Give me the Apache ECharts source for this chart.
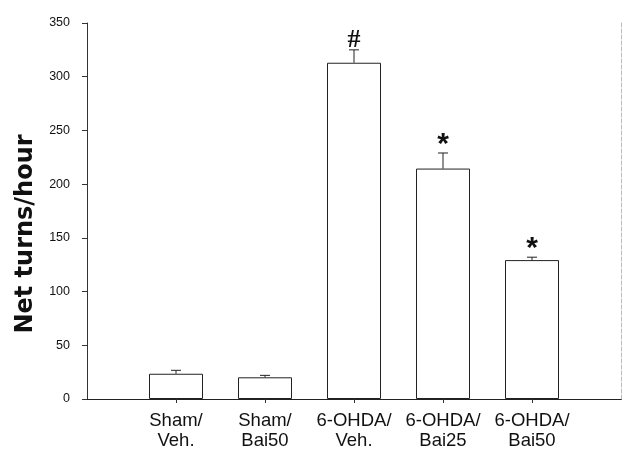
<!DOCTYPE html>
<html>
<head>
<meta charset="utf-8">
<script src="https://cdn.jsdelivr.net/npm/echarts@6/dist/echarts.min.js"></script>
<style>
html,body{margin:0;padding:0;background:#fff;}
#chart{width:624px;height:459px;}
</style>
</head>
<body>
<div id="chart"></div>
<script>
// ---- data ----
const categories = ['Sham/\nVeh.', 'Sham/\nBai50', '6-OHDA/\nVeh.', '6-OHDA/\nBai25', '6-OHDA/\nBai50'];
const means = [23.5, 20.2, 313, 214.5, 129.3];
const semUp = [3.2, 1.8, 12, 14.5, 2.7];
const marks = ['', '', '#', '*', '*'];
const yTicks = { min: 0, max: 350, interval: 50 };
const yTitle = 'Net turns/hour';

// pad with empty slots at both ends so bars sit at ticks 1..5 of a 0..6 axis
const axisCats = [''].concat(categories, ['']);
const barData = [null].concat(means, [null]);
const errData = categories.map((c, i) => [i + 1, means[i], means[i] + semUp[i], marks[i]]);

const chart = echarts.init(document.getElementById('chart'), null, { renderer: 'canvas' });
const option = {
  backgroundColor: '#fff',
  animation: false,
  grid: { left: 87, right: 2, top: 23, bottom: 60, containLabel: false },
  xAxis: [{
    type: 'category',
    data: axisCats,
    boundaryGap: false,
    axisLine: { lineStyle: { color: '#111', width: 1 } },
    axisTick: { show: true, length: 4, inside: false, interval: (i) => i > 0 && i < axisCats.length - 1, lineStyle: { color: '#333' } },
    axisLabel: { interval: 0, margin: 12, color: '#111', fontFamily: 'Liberation Sans, Arial', fontSize: 18.5, lineHeight: 20 },
    splitLine: { show: false }
  }, {
    type: 'category',
    data: axisCats,
    position: 'top',
    boundaryGap: false,
    axisLine: { lineStyle: { color: '#222', width: 1.2 } },
    axisTick: { show: false },
    axisLabel: { show: false }
  }],
  yAxis: [{
    type: 'value',
    min: yTicks.min, max: yTicks.max, interval: yTicks.interval,
    name: yTitle,
    nameLocation: 'middle',
    nameGap: 47,
    nameRotate: 90,
    nameTextStyle: { fontFamily: 'DejaVu Sans', fontWeight: 'bold', fontSize: 24, color: '#111', padding: [0, 46, 0, 0] },
    axisLine: { show: true, lineStyle: { color: '#333', width: 1 } },
    axisTick: { show: true, length: 5, inside: false, lineStyle: { color: '#333' } },
    axisLabel: { margin: 17, color: '#111', fontFamily: 'Liberation Sans, Arial', fontSize: 12.5 },
    splitLine: { show: false }
  }, {
    type: 'value',
    position: 'right',
    min: yTicks.min, max: yTicks.max, interval: yTicks.interval,
    axisLine: { show: true, lineStyle: { color: '#bbb', width: 1, type: 'dashed' } },
    axisTick: { show: false },
    axisLabel: { show: false },
    splitLine: { show: false }
  }],
  series: [{
    type: 'bar',
    data: barData,
    barWidth: 54,
    itemStyle: { color: '#fff', borderColor: '#222', borderWidth: 1 },
    z: 2
  }, {
    type: 'custom',
    data: errData,
    z: 3,
    renderItem: function (params, api) {
      const x = api.value(0);
      const top = api.coord([x, api.value(2)]);
      const base = api.coord([x, api.value(1)]);
      const cap = 5;
      const children = [
        { type: 'line', shape: { x1: top[0], y1: base[1], x2: top[0], y2: top[1] }, style: { stroke: '#222', lineWidth: 1 } },
        { type: 'line', shape: { x1: top[0] - cap, y1: top[1], x2: top[0] + cap, y2: top[1] }, style: { stroke: '#222', lineWidth: 1 } }
      ];
      const m = api.value(3);
      if (m === '#') {
        children.push({ type: 'text', style: { text: '#', x: top[0], y: top[1] + 3, align: 'center', verticalAlign: 'bottom', font: 'bold 26px "Liberation Serif"', fill: '#111' } });
      } else if (m === '*') {
        children.push({ type: 'text', style: { text: '*', x: top[0], y: top[1] + 7, align: 'center', verticalAlign: 'bottom', font: 'bold 30px "Liberation Sans"', fill: '#111' } });
      }
      return { type: 'group', children: children };
    }
  }]
};
chart.setOption(option);
</script>
</body>
</html>
